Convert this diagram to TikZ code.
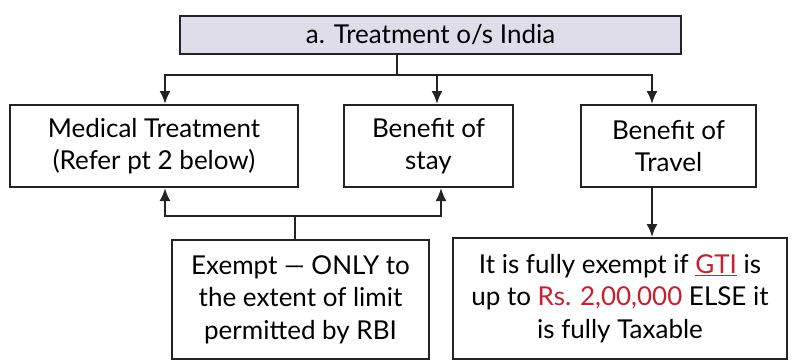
\documentclass[tikz,border=0pt]{standalone}
\usepackage{fontspec}
\setmainfont{Lato}
\usetikzlibrary{arrows.meta}
\definecolor{headfill}{HTML}{DEDDE9}
\definecolor{linegray}{HTML}{232323}
\definecolor{amtred}{HTML}{C4202E}
\tikzset{
  box/.style={draw=linegray,line width=2pt,fill=white,align=center,inner sep=0pt,
    font=\fontsize{26}{32.5}\selectfont},
  link/.style={draw=linegray,line width=2pt},
  arr/.style={link,-{Latex[length=13pt,width=11pt]}}
}
\begin{document}
\begin{tikzpicture}[x=1pt,y=-1pt]
		\useasboundingbox (0,0) rectangle (795,361);
		
		\node[box,fill=headfill,minimum width=501,minimum height=38] (head) at (430.5,35) {a. Treatment o/s India};
		\node[box,minimum width=288,minimum height=82] (med) at (154,146) {Medical Treatment\\(Refer pt 2 below)};
		\node[box,minimum width=169,minimum height=82] (stay) at (428.5,146) {Benefit of\\stay};
		\node[box,minimum width=175,minimum height=82] (trav) at (668.5,146) {Benefit of\\Travel};
		\node[box,minimum width=257,minimum height=119] (exmp) at (300.5,299.5) {Exempt --- ONLY to\\the extent of limit\\permitted by RBI};
		\node[box,minimum width=334,minimum height=121] (rule) at (620,298.5) {It is fully exempt if \textcolor{amtred}{\underline{GTI}} is\\up to \textcolor{amtred}{Rs. 2,00,000} ELSE it\\is fully Taxable};
		
		\coordinate (jtop) at (397,75);
		\coordinate (jbot) at (295,216);
		\draw[link] (head.south -| jtop) -- (jtop);
		\draw[arr] (jtop) -| ([xshift=11pt]med.north);
		\draw[arr] (jtop) -| ([xshift=8.5pt]stay.north);
		\draw[arr] (jtop) -| ([xshift=-16.5pt]trav.north);
		\draw[link] (exmp.north -| jbot) -- (jbot);
		\draw[arr] (jbot) -| ([xshift=11pt]med.south);
		\draw[arr] (jbot) -| ([xshift=12.5pt]stay.south);
		\draw[arr] ([xshift=-16.5pt]trav.south) -- ([xshift=-16.5pt]trav.south |- rule.north);
		\end{tikzpicture}
\end{document}
